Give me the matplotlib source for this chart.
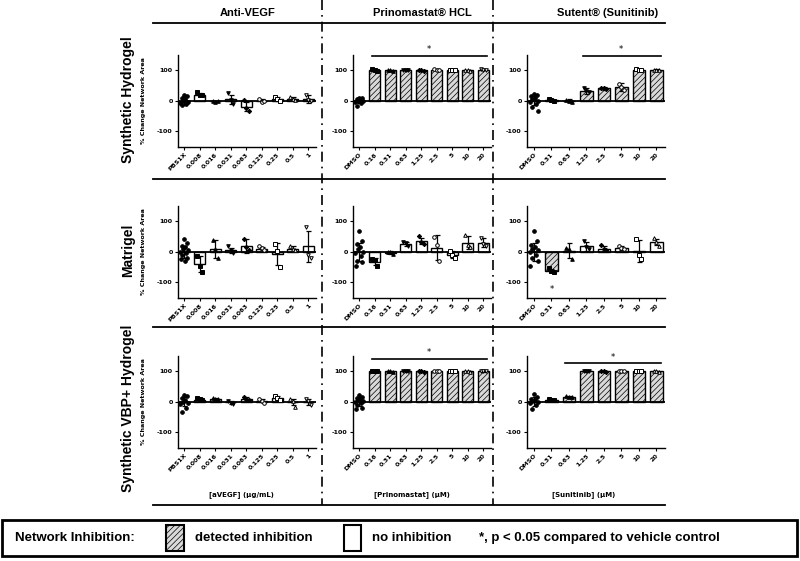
import matplotlib
matplotlib.use("Agg")
import matplotlib.pyplot as plt
from matplotlib.patches import Rectangle
from matplotlib.lines import Line2D
import numpy as np

plt.rcParams['hatch.linewidth'] = 0.5

# ---------------- data ----------------
col_titles = ["Anti-VEGF", "Prinomastat\u00ae HCL", "Sutent\u00ae (Sunitinib)"]
row_titles = ["Synthetic Hydrogel", "Matrigel", "Synthetic VBP+ Hydrogel"]
x_titles = ["[aVEGF] (\u00b5g/mL)", "[Prinomastat] (\u00b5M)", "[Sunitinib] (\u00b5M)"]
vegf_labels = ["PBS1X", "0.008", "0.016", "0.031", "0.063", "0.125", "0.25", "0.5", "1"]
prin_labels = ["DMSO", "0.16", "0.31", "0.63", "1.25", "2.5", "5", "10", "20"]
sun_labels = ["DMSO", "0.31", "0.63", "1.25", "2.5", "5", "10", "20"]

# Synthetic Hydrogel / Anti-VEGF
sh_vegf_mean = [0, 20, -2, 5, -20, 0, 5, 7, 5]
sh_vegf_sd = [14, 5, 2, 15, 15, 5, 6, 5, 12]
sh_vegf_inh = [0, 0, 0, 0, 0, 0, 0, 0, 0]
sh_vegf_pts = [[18, 15, 10, 5, 0, -3, -8, -12, -15, -5], [27, 20, 17], [-1, -3, -2],
               [25, 2, -10], [2, -25, -35], [5, -5, 0], [12, 5, 0], [12, 5, 3], [20, 3, 0]]
# Synthetic Hydrogel / Prinomastat
sh_prin_mean = [0, 100, 99, 100, 99, 101, 100, 99, 101]
sh_prin_sd = [8, 2, 2, 2, 2, 2, 2, 2, 2]
sh_prin_inh = [0, 1, 1, 1, 1, 1, 1, 1, 1]
sh_prin_pts = [[10, 8, 5, 2, 0, -2, -5, -8, -18], [102, 100, 98], [100, 99, 98],
               [101, 100, 99], [100, 99, 98], [102, 101, 100], [101, 100, 99],
               [100, 99, 98], [102, 101, 100]]
sh_prin_sig = (1, 8, 146)
# Synthetic Hydrogel / Sunitinib
sh_sun_mean = [0, 2, 0, 33, 40, 45, 100, 100]
sh_sun_sd = [15, 4, 5, 10, 4, 14, 2, 2]
sh_sun_inh = [0, 0, 0, 1, 1, 1, 1, 1]
sh_sun_pts = [[22, 18, 15, 10, 5, 0, -5, -10, -20, -35], [5, 2, 0], [3, 0, -3],
              [40, 30, 28], [42, 40, 38], [55, 45, 35], [102, 100, 99], [101, 100, 99]]
sh_sun_sig = (3, 7, 146)

# Matrigel / Anti-VEGF
mg_vegf_mean = [0, -40, 8, 5, 18, 10, -8, 10, 17]
mg_vegf_sd = [20, 25, 30, 8, 22, 6, 35, 7, 50]
mg_vegf_inh = [0, 0, 0, 0, 0, 0, 0, 0, 0]
mg_vegf_pts = [[40, 30, 20, 15, 10, 5, 0, -5, -10, -20, -25, -30], [-15, -45, -65],
               [38, 8, -22], [18, 5, -5], [40, 15, 5], [18, 12, 5], [25, 2, -50],
               [17, 10, 5], [80, -10, -20]]
# Matrigel / Prinomastat
mg_prin_mean = [0, -32, -3, 25, 35, 13, -10, 30, 30]
mg_prin_sd = [30, 10, 5, 8, 10, 40, 12, 20, 14]
mg_prin_inh = [0, 0, 0, 0, 0, 0, 0, 0, 0]
mg_prin_pts = [[68, 35, 25, 15, 10, 0, -5, -15, -30, -35, -45], [-25, -28, -45],
               [0, -2, -8], [32, 28, 18], [50, 33, 25], [48, 22, -30], [3, -12, -20],
               [55, 22, 15], [45, 25, 20]]
# Matrigel / Sunitinib
mg_sun_mean = [0, -62, 3, 17, 10, 13, 2, 32]
mg_sun_sd = [30, 5, 25, 15, 8, 6, 35, 10]
mg_sun_inh = [0, 1, 0, 0, 0, 0, 0, 0]
mg_sun_pts = [[68, 35, 22, 15, 10, 5, 0, -10, -20, -30, -45], [-52, -62, -65],
              [12, 8, -25], [35, 15, 10], [22, 8, 5], [20, 12, 8], [40, -10, -25],
              [45, 32, 20]]
mg_sun_star = (1, -122)

# VBP+ Hydrogel / Anti-VEGF
vb_vegf_mean = [0, 7, 10, -2, 10, 3, 12, 0, 0]
vb_vegf_sd = [15, 4, 3, 5, 4, 5, 6, 10, 10]
vb_vegf_inh = [0, 0, 0, 0, 0, 0, 0, 0, 0]
vb_vegf_pts = [[22, 18, 12, 5, 0, -5, -8, -20, -35], [13, 8, 4], [12, 10, 8],
               [3, -3, -7], [16, 10, 6], [10, 2, -3], [20, 12, 6], [8, 2, -18],
               [8, 2, -12]]
# VBP+ Hydrogel / Prinomastat
vb_prin_mean = [0, 100, 99, 100, 99, 100, 100, 99, 100]
vb_prin_sd = [14, 2, 2, 2, 2, 2, 2, 2, 2]
vb_prin_inh = [0, 1, 1, 1, 1, 1, 1, 1, 1]
vb_prin_pts = [[22, 15, 12, 8, 5, 2, 0, -5, -10, -20, -25], [101, 100, 99],
               [100, 99, 98], [101, 100, 99], [100, 99, 98], [101, 100, 99],
               [101, 100, 99], [100, 99, 98], [101, 100, 99]]
vb_prin_sig = (1, 8, 139)
# VBP+ Hydrogel / Sunitinib
vb_sun_mean = [0, 5, 16, 100, 99, 100, 100, 99]
vb_sun_sd = [14, 2, 3, 2, 2, 2, 2, 2]
vb_sun_inh = [0, 0, 1, 1, 1, 1, 1, 1]
vb_sun_pts = [[25, 15, 10, 5, 2, 0, -5, -10, -25], [8, 5, 4], [20, 16, 14],
              [101, 100, 99], [100, 99, 98], [101, 100, 99], [101, 100, 99],
              [100, 99, 98]]
vb_sun_sig = (2, 7, 125)

panels = [
    [(vegf_labels, sh_vegf_mean, sh_vegf_sd, sh_vegf_pts, sh_vegf_inh, None, None),
     (prin_labels, sh_prin_mean, sh_prin_sd, sh_prin_pts, sh_prin_inh, sh_prin_sig, None),
     (sun_labels, sh_sun_mean, sh_sun_sd, sh_sun_pts, sh_sun_inh, sh_sun_sig, None)],
    [(vegf_labels, mg_vegf_mean, mg_vegf_sd, mg_vegf_pts, mg_vegf_inh, None, None),
     (prin_labels, mg_prin_mean, mg_prin_sd, mg_prin_pts, mg_prin_inh, None, None),
     (sun_labels, mg_sun_mean, mg_sun_sd, mg_sun_pts, mg_sun_inh, None, mg_sun_star)],
    [(vegf_labels, vb_vegf_mean, vb_vegf_sd, vb_vegf_pts, vb_vegf_inh, None, None),
     (prin_labels, vb_prin_mean, vb_prin_sd, vb_prin_pts, vb_prin_inh, vb_prin_sig, None),
     (sun_labels, vb_sun_mean, vb_sun_sd, vb_sun_pts, vb_sun_inh, vb_sun_sig, None)],
]

# ---------------- layout ----------------
W, H = 800, 561
fig = plt.figure(figsize=(8, 5.61), dpi=100)

def fx(px):
    return px / W

def fy(py):
    return 1 - py / H

col_px = [(178, 316), (353, 491), (527, 665)]
row_px = [(54.7, 146.7), (205.7, 297.7), (355.7, 447.7)]

markers = ['o', 's', '^', 'v', 'D', 'o', 's', '^', 'v']
filled = [True, True, True, True, True, False, False, False, False]
tick_font = dict(family='DejaVu Sans', weight='bold', size=4.6)
swarm = [0.0, 0.17, -0.17, 0.08, -0.09, 0.25, -0.25, 0.13, -0.13, 0.21, -0.21, 0.04]
trio = [-0.15, 0.0, 0.15]

for r in range(3):
    for c in range(3):
        labels, mean, sd, pts, inh, sig, star = panels[r][c]
        x0, x1 = col_px[c]
        yt, yb = row_px[r]
        ax = fig.add_axes([fx(x0), fy(yb), fx(x1) - fx(x0), fy(yt) - fy(yb)])
        n = len(labels)
        x = np.arange(n)
        for i in range(n):
            ax.bar(x[i], mean[i], width=0.72,
                   facecolor='#d9d9d9' if inh[i] else 'white',
                   edgecolor='black', linewidth=1.0,
                   hatch='//////' if inh[i] else None, zorder=2)
        ax.errorbar(x, mean, yerr=sd, fmt='none', ecolor='black',
                    elinewidth=0.9, capsize=1.8, capthick=0.9, zorder=4)
        for i in range(n):
            p = np.array(pts[i], dtype=float)
            k = len(p)
            offs = np.array(trio if k == 3 else swarm[:k])
            ax.plot(x[i] + offs, p, linestyle='none', marker=markers[i],
                    markersize=2.6 if markers[i] != 'D' else 2.2,
                    markerfacecolor='black' if filled[i] else 'white',
                    markeredgecolor='black', markeredgewidth=0.7, zorder=5)
        ax.axhline(0, color='black', linewidth=1.3, zorder=3)
        ax.set_xlim(-0.4, n - 0.5)
        ax.set_ylim(-150, 150)
        ax.set_yticks([-100, 0, 100])
        ax.set_yticklabels(['-100', '0', '100'], fontdict=tick_font)
        ax.set_xticks(x)
        ax.set_xticklabels(labels, fontdict=tick_font, rotation=45,
                           ha='right', rotation_mode='anchor')
        ax.tick_params(axis='both', length=2.2, width=0.8, pad=1.5)
        for s in ['top', 'right']:
            ax.spines[s].set_visible(False)
        for s in ['left', 'bottom']:
            ax.spines[s].set_linewidth(1.0)
        ax.patch.set_alpha(0)
        if sig is not None:
            a, b, yv = sig
            ax.plot([a - 0.2, b + 0.25], [yv, yv], color='black', lw=1.2,
                    clip_on=False, zorder=6)
            ax.text((a + b) / 2, yv + 6, '*', ha='center', va='bottom',
                    fontsize=6, clip_on=False)
        if star is not None:
            ax.text(star[0], star[1], '*', ha='center', va='center', fontsize=6)
        if c == 0:
            fig.text(fx(144), fy((yt + yb) / 2), '% Change Network Area',
                     rotation=90, ha='center', va='center',
                     family='DejaVu Sans', weight='bold', size=4.6)

# row titles
row_cy = [100, 250, 408]
for r in range(3):
    fig.text(fx(128), fy(row_cy[r]), row_titles[r], rotation=90, ha='center',
             va='center', family='Liberation Sans', weight='bold', size=10)

# column titles
col_cx = [248, 422, 608]
for c in range(3):
    fig.text(fx(col_cx[c]), fy(13), col_titles[c], ha='center', va='center',
             family='Liberation Sans', weight='bold', size=8)

# x titles
xt_cx = [241, 412, 584]
for c in range(3):
    fig.text(fx(xt_cx[c]), fy(495), x_titles[c], ha='center', va='center',
             family='DejaVu Sans', weight='bold', size=5)

# horizontal separators
for yy in [23, 179, 327, 505]:
    fig.add_artist(Line2D([fx(153), fx(665)], [fy(yy), fy(yy)], color='black',
                          lw=1.3, transform=fig.transFigure))
# vertical dash-dot separators
for xx in [322, 493]:
    fig.add_artist(Line2D([fx(xx), fx(xx)], [fy(0), fy(505)], color='black',
                          lw=1.2, linestyle=(0, (6, 3, 1, 3)),
                          transform=fig.transFigure))

# legend box
fig.add_artist(Rectangle((fx(2), fy(556)), fx(797) - fx(2), fy(520) - fy(556),
                         transform=fig.transFigure, facecolor='white',
                         edgecolor='black', lw=2))
leg_font = dict(family='Liberation Sans', weight='bold', size=9.5)
fig.text(fx(15), fy(538), 'Network Inhibition:', ha='left', va='center', **leg_font)
fig.add_artist(Rectangle((fx(166), fy(551)), fx(184) - fx(166), fy(525) - fy(551),
                         transform=fig.transFigure, facecolor='#d9d9d9',
                         edgecolor='black', lw=1.5, hatch='//////'))
fig.text(fx(195), fy(538), 'detected inhibition', ha='left', va='center', **leg_font)
fig.add_artist(Rectangle((fx(344), fy(551)), fx(361) - fx(344), fy(525) - fy(551),
                         transform=fig.transFigure, facecolor='white',
                         edgecolor='black', lw=1.5))
fig.text(fx(372), fy(538), 'no inhibition', ha='left', va='center', **leg_font)
fig.text(fx(479), fy(538), '*, p < 0.05 compared to vehicle control', ha='left',
         va='center', **leg_font)

fig.savefig('out.png', dpi=100)
